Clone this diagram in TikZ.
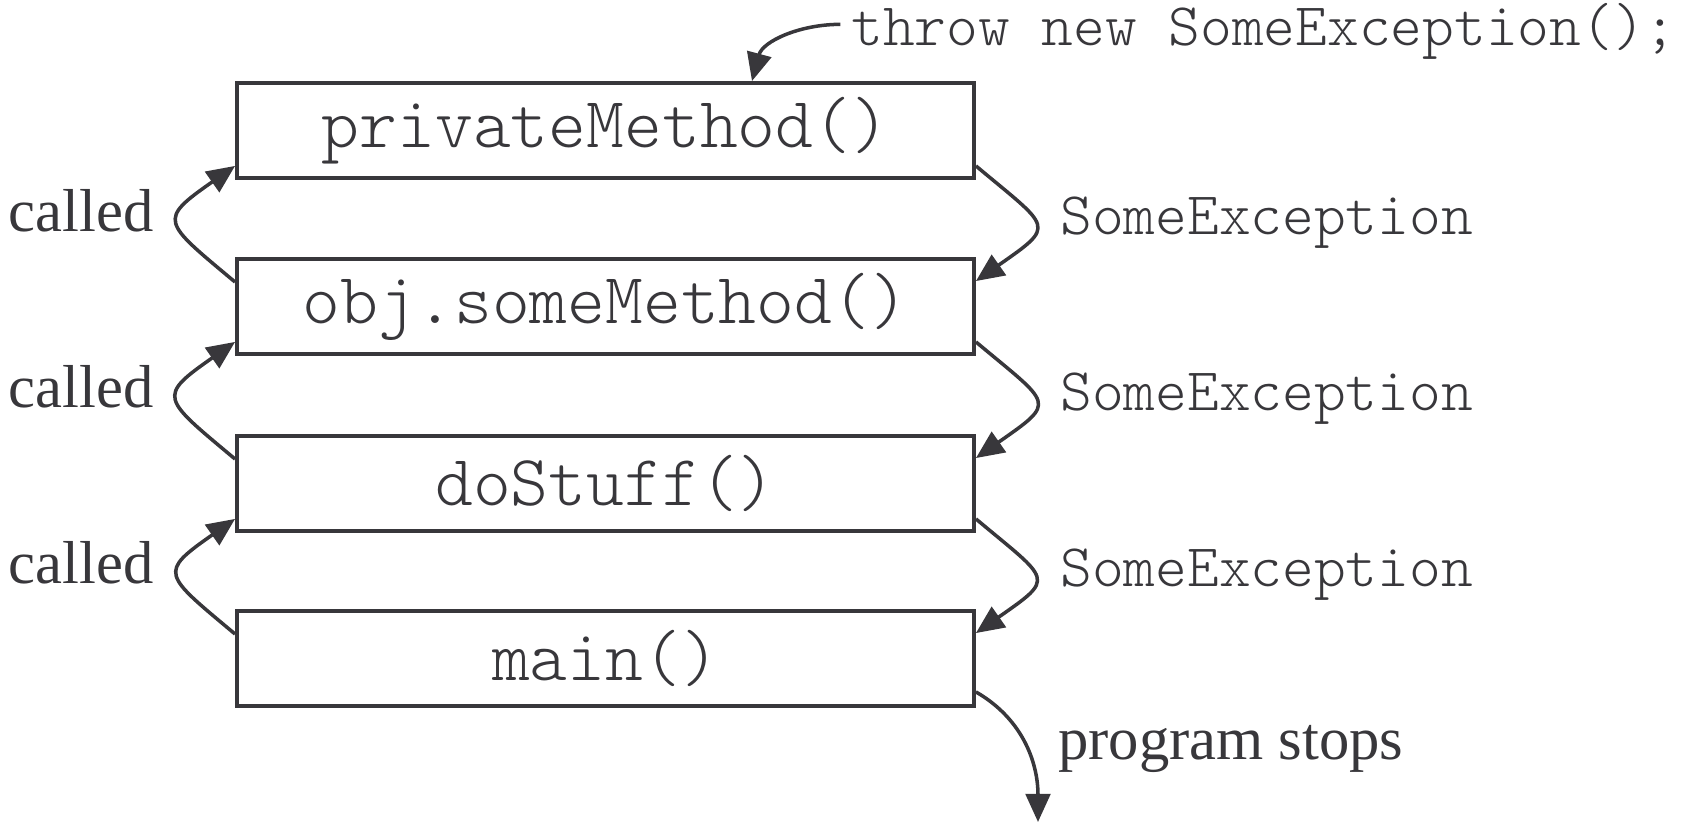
\documentclass[tikz,border=0pt]{standalone}
\usepackage{fontspec}
\setmainfont{Liberation Serif}
\setmonofont{lmmonolt10-regular.otf}
\usetikzlibrary{arrows.meta}

\definecolor{ink}{HTML}{38373B}

\tikzset{
  methodbox/.style={draw=ink,line width=2.2pt,minimum width=14.74cm,minimum height=1.9cm,
    inner sep=0,text=ink,font=\ttfamily\fontsize{41}{45}\selectfont},
  flow/.style={draw=ink,line width=2pt,-{Triangle[length=16pt,width=14pt]}},
  codelabel/.style={inner sep=0,text=ink,font=\ttfamily\fontsize{34.4}{38}\selectfont},
  wordlabel/.style={inner sep=0,text=ink,font=\fontsize{34.5}{38}\selectfont},
}

\begin{document}
\begin{tikzpicture}

    \useasboundingbox (0,0) rectangle (33.82,16.46);

    \node[methodbox] (priv) at (12.11,13.85) {privateMethod()};
    \node[methodbox] (some) at (12.11,10.33) {obj.someMethod()};
    \node[methodbox] (stuff) at (12.11,6.79) {doStuff()};
    \node[methodbox] (main) at (12.11,3.29) {main()};

    \node[codelabel,anchor=base west] (throw) at (17.02,15.55) {throw new SomeException();};
    \draw[flow] ([xshift=-6pt,yshift=4pt]throw.west) to[out=180,in=75] ([xshift=2.93cm]priv.north);

    % calls go up on the left
    \node[wordlabel,anchor=base east] (call1) at (3.08,11.82) {called};
    \node[wordlabel,anchor=base east] (call2) at (3.08,8.30) {called};
    \node[wordlabel,anchor=base east] (call3) at (3.08,4.78) {called};
    \draw[flow] ([yshift=-0.5cm]some.north west) to[out=140,in=-145,looseness=2.1] ([yshift=0.28cm]priv.south west);
    \draw[flow] ([yshift=-0.5cm]stuff.north west) to[out=140,in=-145,looseness=2.1] ([yshift=0.28cm]some.south west);
    \draw[flow] ([yshift=-0.5cm]main.north west) to[out=140,in=-145,looseness=2.1] ([yshift=0.28cm]stuff.south west);

    % exception goes down on the right
    \node[codelabel,anchor=base west] (exc1) at (21.2,11.76) {SomeException};
    \node[codelabel,anchor=base west] (exc2) at (21.2,8.24) {SomeException};
    \node[codelabel,anchor=base west] (exc3) at (21.2,4.72) {SomeException};
    \draw[flow] ([yshift=0.28cm]priv.south east) to[out=-40,in=35,looseness=2.2] ([yshift=-0.48cm]some.north east);
    \draw[flow] ([yshift=0.28cm]some.south east) to[out=-40,in=35,looseness=2.2] ([yshift=-0.48cm]stuff.north east);
    \draw[flow] ([yshift=0.28cm]stuff.south east) to[out=-40,in=35,looseness=2.2] ([yshift=-0.48cm]main.north east);

    \coordinate (stop) at (20.76,0.02);
    \node[wordlabel,anchor=base west] (stops) at (21.16,1.26) {program stops};
    \draw[flow] ([yshift=0.32cm]main.south east) to[out=-30,in=90] (stop);
\end{tikzpicture}
\end{document}
